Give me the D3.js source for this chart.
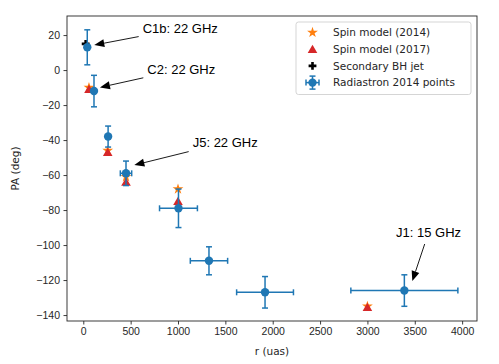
<!DOCTYPE html>
<html>
<head>
<meta charset="utf-8">
<script src="https://cdn.jsdelivr.net/npm/d3@7"></script>
<style>
  body { margin: 0; background: #fff; }
  svg { display: block; font-family: 'DejaVu Sans', sans-serif; }
  .axis text { font-size: 10.5px; fill: #262626; }
  .axis path, .axis line { stroke: #262626; stroke-width: 0.9; }
  .note { font-family: 'Liberation Sans', Arial, sans-serif; font-size: 13px; }
</style>
</head>
<body>
<div id="chart"></div>
<script>
// Radiastron 2014 points: r (uas), PA (deg) and their errors
const radR = [42, 113, 262, 451, 1005, 1327, 1919, 3390]
const radRErr = [0, 0, 0, 60, 200, 197, 300, 565]
const radPA = [13, -12, -38, -59, -79, -109, -127, -126]
const radPAErr = [10, 9, 6, 7, 11, 8, 9, 9]

// spin models
const spinR = [60, 258, 451, 1000, 3000]
const spin2014PA = [-10, -46, -61, -68, -135]
const spin2017PA = [-11, -47, -64, -75, -135.5]

// secondary BH jet
const bhR = [25]
const bhPA = [15]

// annotations: label, text anchor (r, PA), arrow tip (r, PA)
const noteLabels = ['C1b: 22 GHz', 'C2: 22 GHz', 'J5: 22 GHz', 'J1: 15 GHz']
const noteText = [[627, 21.1], [676, -2.2], [1155, -44], [3302, -95.4]]
const noteTip = [[116, 14.3], [176, -9.9], [539, -54.3], [3474, -120.6]]

const xTicks = [0, 500, 1000, 1500, 2000, 2500, 3000, 3500, 4000]
const yTicks = [20, 0, -20, -40, -60, -80, -100, -120, -140]

const legendLabels = ['Spin model (2014)', 'Spin model (2017)', 'Secondary BH jet', 'Radiastron 2014 points']

const blue = '#1f77b4'
const orange = '#ff7f0e'
const red = '#d62728'

drawChart()

function drawChart () {
  const width = 499
  const height = 364
  const margin = { top: 16, right: 22, bottom: 43, left: 67 }

  const svg = d3.select('#chart').append('svg')
    .attr('width', width)
    .attr('height', height)

  const x = d3.scaleLinear()
    .domain([-172, 4157])
    .range([margin.left, width - margin.right])

  const y = d3.scaleLinear()
    .domain([-143.4, 30.9])
    .range([height - margin.bottom, margin.top])

  // axes
  svg.append('g')
    .attr('class', 'axis')
    .attr('transform', `translate(0,${height - margin.bottom})`)
    .call(d3.axisBottom(x).tickValues(xTicks).tickSize(3.5).tickPadding(3.5).tickSizeOuter(0)
      .tickFormat(d3.format('d')))

  svg.append('g')
    .attr('class', 'axis')
    .attr('transform', `translate(${margin.left},0)`)
    .call(d3.axisLeft(y).tickValues(yTicks).tickSize(3.5).tickPadding(3.5).tickSizeOuter(0)
      .tickFormat(d => d < 0 ? '\u2212' + Math.abs(d) : d))

  svg.selectAll('.axis .domain').remove()

  svg.append('rect')
    .attr('x', margin.left)
    .attr('y', margin.top)
    .attr('width', width - margin.left - margin.right)
    .attr('height', height - margin.top - margin.bottom)
    .attr('fill', 'none')
    .attr('stroke', '#262626')
    .attr('stroke-width', 0.9)

  svg.append('text')
    .attr('x', (margin.left + width - margin.right) / 2)
    .attr('y', 354.5)
    .attr('text-anchor', 'middle')
    .attr('font-size', 10.5)
    .attr('fill', '#262626')
    .text('r (uas)')

  svg.append('text')
    .attr('transform', `translate(19,${(margin.top + height - margin.bottom) / 2}) rotate(-90)`)
    .attr('text-anchor', 'middle')
    .attr('font-size', 10.5)
    .attr('fill', '#262626')
    .text('PA (deg)')

  const plot = svg.append('g')

  const star = d3.symbol().type(d3.symbolStar).size(36)
  const tri = d3.symbol().type(d3.symbolTriangle).size(40)
  const cross = d3.symbol().type(d3.symbolCross).size(34)

  // spin model 2014
  plot.selectAll('.s14')
    .data(spinR)
    .join('path')
    .attr('transform', (d, i) => `translate(${x(d)},${y(spin2014PA[i])})`)
    .attr('d', star)
    .attr('fill', orange)

  // spin model 2017
  plot.selectAll('.s17')
    .data(spinR)
    .join('path')
    .attr('transform', (d, i) => `translate(${x(d)},${y(spin2017PA[i]) + 1})`)
    .attr('d', tri)
    .attr('fill', red)

  // secondary BH jet
  plot.selectAll('.bh')
    .data(bhR)
    .join('path')
    .attr('transform', (d, i) => `translate(${x(d)},${y(bhPA[i])})`)
    .attr('d', cross)
    .attr('fill', '#000')

  // Radiastron error bars
  const cap = 3
  const eb = plot.selectAll('.eb')
    .data(radR)
    .join('g')
    .attr('stroke', blue)
    .attr('stroke-width', 1.5)

  eb.each(function (d, i) {
    const g = d3.select(this)
    const xx = x(d)
    const yy = y(radPA[i])
    if (radRErr[i] > 0) {
      const x0 = x(d - radRErr[i])
      const x1 = x(d + radRErr[i])
      g.append('line').attr('x1', x0).attr('x2', x1).attr('y1', yy).attr('y2', yy)
      g.append('line').attr('x1', x0).attr('x2', x0).attr('y1', yy - cap).attr('y2', yy + cap)
      g.append('line').attr('x1', x1).attr('x2', x1).attr('y1', yy - cap).attr('y2', yy + cap)
    }
    const y0 = y(radPA[i] - radPAErr[i])
    const y1 = y(radPA[i] + radPAErr[i])
    g.append('line').attr('x1', xx).attr('x2', xx).attr('y1', y0).attr('y2', y1)
    g.append('line').attr('x1', xx - cap).attr('x2', xx + cap).attr('y1', y0).attr('y2', y0)
    g.append('line').attr('x1', xx - cap).attr('x2', xx + cap).attr('y1', y1).attr('y2', y1)
    g.append('circle').attr('cx', xx).attr('cy', yy).attr('r', 4.2)
      .attr('fill', blue).attr('stroke', 'none')
  })

  // annotations
  noteLabels.forEach((label, i) => {
    const t = svg.append('text')
      .attr('class', 'note')
      .attr('x', x(noteText[i][0]))
      .attr('y', y(noteText[i][1]))
      .attr('fill', '#000')
      .text(label)
    const bb = t.node().getBBox()
    const pad = 4
    const cx = bb.x + bb.width / 2
    const cy = bb.y + bb.height / 2
    const tx = x(noteTip[i][0])
    const ty = y(noteTip[i][1])
    const dx = tx - cx
    const dy = ty - cy
    const hw = bb.width / 2 + pad
    const hh = bb.height / 2 + pad
    const s = Math.min(Math.abs(hw / dx), Math.abs(hh / dy))
    drawArrow(svg, cx + dx * s, cy + dy * s, tx, ty)
  })

  // legend
  const lx = 296
  const ly = 22
  const legend = svg.append('g')
  legend.append('rect')
    .attr('x', lx)
    .attr('y', ly)
    .attr('width', 175)
    .attr('height', 72.5)
    .attr('rx', 2.5)
    .attr('fill', '#fff')
    .attr('fill-opacity', 0.8)
    .attr('stroke', '#d0d0d0')
    .attr('stroke-width', 0.9)

  const rowY = d => ly + 10.5 + d * 16.7
  const mx = lx + 16.5

  legendLabels.forEach((label, i) => {
    legend.append('text')
      .attr('x', lx + 37)
      .attr('y', rowY(i) + 3.8)
      .attr('font-size', 10.5)
      .attr('fill', '#262626')
      .text(label)
  })
  legend.append('path').attr('transform', `translate(${mx},${rowY(0)})`).attr('d', star).attr('fill', orange)
  legend.append('path').attr('transform', `translate(${mx},${rowY(1) + 1})`).attr('d', tri).attr('fill', red)
  legend.append('path').attr('transform', `translate(${mx},${rowY(2)})`).attr('d', cross).attr('fill', '#000')

  const lg = legend.append('g').attr('stroke', blue).attr('stroke-width', 1.5)
  const ey = rowY(3)
  lg.append('line').attr('x1', mx - 6.5).attr('x2', mx + 6.5).attr('y1', ey).attr('y2', ey)
  lg.append('line').attr('x1', mx).attr('x2', mx).attr('y1', ey - 6.5).attr('y2', ey + 6.5)
  lg.append('line').attr('x1', mx - 6.5).attr('x2', mx - 6.5).attr('y1', ey - cap).attr('y2', ey + cap)
  lg.append('line').attr('x1', mx + 6.5).attr('x2', mx + 6.5).attr('y1', ey - cap).attr('y2', ey + cap)
  lg.append('line').attr('x1', mx - cap).attr('x2', mx + cap).attr('y1', ey - 6.5).attr('y2', ey - 6.5)
  lg.append('line').attr('x1', mx - cap).attr('x2', mx + cap).attr('y1', ey + 6.5).attr('y2', ey + 6.5)
  lg.append('circle').attr('cx', mx).attr('cy', ey).attr('r', 4.2).attr('fill', blue).attr('stroke', 'none')
}

function drawArrow (svg, x0, y0, x1, y1) {
  const len = Math.hypot(x1 - x0, y1 - y0)
  const ux = (x1 - x0) / len
  const uy = (y1 - y0) / len
  const headLen = 10
  const headW = 4
  const bx = x1 - ux * headLen
  const by = y1 - uy * headLen
  svg.append('line')
    .attr('x1', x0).attr('y1', y0)
    .attr('x2', bx).attr('y2', by)
    .attr('stroke', '#000')
    .attr('stroke-width', 0.9)
  svg.append('path')
    .attr('d', `M${x1},${y1}L${bx - uy * headW},${by + ux * headW}L${bx + uy * headW},${by - ux * headW}Z`)
    .attr('fill', '#000')
}
</script>
</body>
</html>
